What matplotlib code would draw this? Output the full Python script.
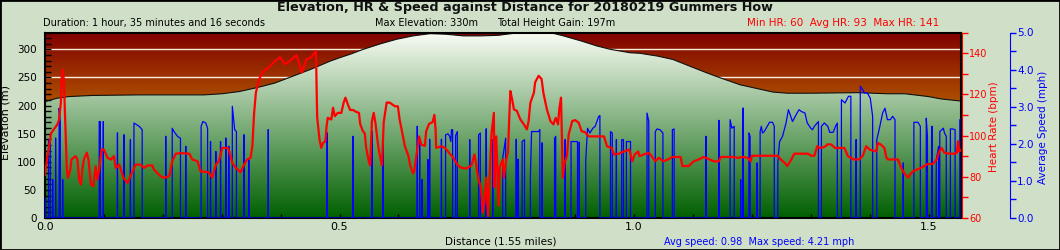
import numpy as np
import matplotlib
matplotlib.use("Agg")
import matplotlib.pyplot as plt
from matplotlib.patches import Polygon, Rectangle
from matplotlib.ticker import MultipleLocator, FixedLocator, FormatStrFormatter

# ---- values (distance in miles) ----
elev_dist = [0.0, 0.01, 0.02, 0.04, 0.08, 0.16, 0.27, 0.30, 0.33, 0.36, 0.39, 0.42, 0.45,
             0.484, 0.50, 0.52, 0.54, 0.57, 0.597, 0.625, 0.654, 0.68, 0.71, 0.74, 0.77,
             0.784, 0.80, 0.823, 0.852, 0.865, 0.88, 0.91, 0.937, 0.96, 0.993, 1.01, 1.04,
             1.066, 1.09, 1.124, 1.15, 1.18, 1.21, 1.236, 1.26, 1.30, 1.38, 1.43, 1.46,
             1.50, 1.52, 1.555]
elev_m = [207, 210, 213, 216, 218, 219, 219, 221, 225, 232, 240, 252, 264,
          279, 285, 292, 300, 310, 318, 324, 328, 327, 324, 324, 325,
          327, 329, 330, 330, 328, 324, 315, 306, 300, 294, 293, 288,
          282, 272, 258, 248, 237, 230, 224, 222, 222, 223, 221, 221,
          216, 212, 208]

hr_dist = [0.000, 0.004, 0.007, 0.010, 0.015, 0.021, 0.024, 0.027, 0.028, 0.030, 0.032, 0.034,
           0.037, 0.039, 0.043, 0.045, 0.052, 0.055, 0.058, 0.061, 0.063, 0.066, 0.071, 0.074,
           0.078, 0.082, 0.086, 0.089, 0.092, 0.096, 0.100, 0.106, 0.112, 0.117, 0.120, 0.126,
           0.128, 0.133, 0.140, 0.145, 0.154, 0.162, 0.168, 0.174, 0.182, 0.185, 0.196, 0.202,
           0.211, 0.216, 0.222, 0.230, 0.245, 0.250, 0.259, 0.264, 0.278, 0.284, 0.290, 0.295,
           0.301, 0.310, 0.312, 0.318, 0.324, 0.332, 0.338, 0.343, 0.349, 0.352, 0.355, 0.358,
           0.363, 0.370, 0.380, 0.388, 0.399, 0.407, 0.415, 0.427, 0.436, 0.444, 0.452, 0.460,
           0.462, 0.466, 0.469, 0.472, 0.476, 0.478, 0.480, 0.486, 0.489, 0.492, 0.497, 0.503,
           0.507, 0.510, 0.514, 0.518, 0.523, 0.528, 0.533, 0.535, 0.539, 0.543, 0.545, 0.550,
           0.552, 0.555, 0.558, 0.561, 0.565, 0.568, 0.572, 0.575, 0.580, 0.585, 0.589, 0.594,
           0.599, 0.602, 0.607, 0.611, 0.617, 0.620, 0.625, 0.627, 0.630, 0.635, 0.639, 0.645,
           0.647, 0.652, 0.658, 0.661, 0.663, 0.664, 0.673, 0.679, 0.684, 0.693, 0.701, 0.707,
           0.715, 0.724, 0.729, 0.732, 0.735, 0.740, 0.743, 0.746, 0.749, 0.752, 0.754, 0.758,
           0.762, 0.763, 0.766, 0.770, 0.772, 0.777, 0.779, 0.783, 0.786, 0.788, 0.790, 0.793,
           0.796, 0.801, 0.807, 0.813, 0.818, 0.821, 0.824, 0.830, 0.832, 0.838, 0.843, 0.846,
           0.852, 0.858, 0.863, 0.867, 0.871, 0.873, 0.876, 0.879, 0.882, 0.886, 0.889, 0.895,
           0.900, 0.906, 0.911, 0.917, 0.923, 0.949, 0.954, 0.962, 0.966, 0.974, 0.983, 0.992,
           0.997, 1.001, 1.007, 1.009, 1.016, 1.025, 1.030, 1.036, 1.042, 1.050, 1.059, 1.065,
           1.079, 1.082, 1.093, 1.101, 1.110, 1.118, 1.127, 1.135, 1.144, 1.147, 1.166, 1.176,
           1.185, 1.193, 1.198, 1.200, 1.244, 1.249, 1.256, 1.260, 1.267, 1.272, 1.295, 1.301,
           1.306, 1.311, 1.315, 1.323, 1.329, 1.335, 1.341, 1.357, 1.363, 1.373, 1.382, 1.388,
           1.394, 1.400, 1.405, 1.411, 1.414, 1.419, 1.425, 1.428, 1.431, 1.448, 1.453, 1.459,
           1.465, 1.470, 1.476, 1.484, 1.493, 1.498, 1.507, 1.514, 1.518, 1.522, 1.527, 1.535,
           1.544, 1.548, 1.550, 1.552, 1.555]
hr_bpm = [81, 90, 94.8, 101, 103, 105.4, 107.8, 116, 127, 132, 127, 109.5,
          84, 79.5, 83.5, 88.4, 90, 88.4, 78.6, 76.2, 82.6, 88.4, 91.7, 88,
          76.2, 75.4, 85, 78.6, 83.5, 93.2, 93.2, 89.2, 88.4, 90, 84.3, 85.9,
          84.3, 79.6, 77, 80.3, 85.9, 85.9, 84.3, 85.5, 85.5, 83.5, 80.3, 79.5,
          80.3, 87.5, 91.2, 91.5, 91.2, 88.4, 87.5, 82.6, 82.2, 79.6, 85.9, 87.5,
          94, 94, 93.2, 86.7, 84.3, 82.2, 85.9, 88.4, 89.2, 94.8, 111, 120.8,
          127, 131, 133, 135.5, 138, 134.6, 136, 139, 130.6, 137, 138, 141,
          109, 98, 94, 96.4, 97.2, 104.5, 108.6, 107.8, 113.5, 109.4, 111, 111,
          116, 118.4, 115.2, 112.4, 112.4, 111.5, 111, 105.7, 102.5, 100.9, 94.4, 87.1,
          85.5, 107, 111, 106, 96.4, 90.8, 85.5, 106.5, 116, 116, 115.2, 114.2,
          114.2, 107.8, 100.5, 94.8, 90, 85.5, 81.6, 83, 89.2, 99.6, 95.6, 95,
          102, 105.7, 106.5, 110, 103.3, 94, 94.8, 94, 92.3, 89.2, 85.5, 84.3,
          84, 85.5, 90.8, 86, 79.6, 74.8, 62.6, 68, 79.6, 61, 73.2, 100.9,
          111, 75, 99.6, 66, 84.7, 88.4, 79.6, 88.4, 92, 107.8, 121.6, 117.6,
          112.7, 112, 107.8, 105.4, 103, 107, 116, 120.8, 125.8, 129, 127.4, 120.8,
          112.7, 107, 105.4, 108.6, 105.4, 112.7, 118.4, 79.6, 86.7, 90, 100.5, 107,
          107.5, 106.2, 102.1, 101.6, 99.6, 99.6, 94.8, 94, 90.8, 91.2, 92.3, 93.2,
          87.5, 90.8, 92.3, 90, 90.8, 91.6, 90, 87.5, 89.2, 87.5, 88.6, 89.6,
          89.6, 85.2, 85.2, 87.5, 88.4, 89.6, 88.6, 87.5, 87.5, 89.6, 89.6, 89.2,
          89.6, 89.2, 87.5, 90.2, 90.2, 88.4, 86.7, 85.2, 88.4, 91.2, 91.2, 90.2,
          90.2, 94.8, 94, 94.4, 95.8, 95.6, 94, 94, 90, 88.4, 88.4, 90,
          94.8, 93.2, 92.8, 92.3, 96.4, 95.6, 94, 89.6, 88.4, 88.4, 84.7, 81.6,
          79.6, 81.6, 83.1, 83.9, 85.2, 86.2, 86.2, 88.4, 92.3, 94, 91.6, 91.2,
          91.2, 91.6, 97.2, 92.3, 93]

# speed trace: each burst rises from zero and falls back to zero
spd_dist = [0.001, 0.001, 0.001,
            0.006, 0.006, 0.009, 0.009,
            0.013, 0.013, 0.013,
            0.018, 0.018, 0.018,
            0.024, 0.024, 0.026, 0.026,
            0.030, 0.030, 0.030,
            0.092, 0.092, 0.094, 0.094,
            0.099, 0.099, 0.099,
            0.123, 0.123, 0.123,
            0.134, 0.134, 0.134,
            0.145, 0.145, 0.145,
            0.151, 0.151, 0.160, 0.165, 0.165,
            0.205, 0.205, 0.205,
            0.216, 0.216, 0.219, 0.225, 0.230, 0.230,
            0.239, 0.239, 0.239,
            0.265, 0.265, 0.268, 0.273, 0.276, 0.276,
            0.281, 0.281, 0.281,
            0.290, 0.290, 0.290,
            0.298, 0.298, 0.298,
            0.307, 0.307, 0.307,
            0.312, 0.312, 0.312,
            0.318, 0.318, 0.322, 0.325, 0.325,
            0.338, 0.338, 0.338,
            0.346, 0.346, 0.346,
            0.379, 0.379, 0.379,
            0.479, 0.479, 0.479,
            0.523, 0.523, 0.523,
            0.555, 0.555, 0.555,
            0.574, 0.574, 0.574,
            0.632, 0.632, 0.632,
            0.636, 0.636, 0.636,
            0.640, 0.640, 0.640,
            0.650, 0.650, 0.650,
            0.653, 0.653, 0.653,
            0.673, 0.673, 0.673,
            0.680, 0.680, 0.684, 0.687, 0.689, 0.690, 0.692, 0.692,
            0.697, 0.697, 0.700, 0.700,
            0.721, 0.721, 0.721,
            0.736, 0.736, 0.739, 0.739,
            0.749, 0.749, 0.749,
            0.760, 0.760, 0.760,
            0.777, 0.777, 0.782, 0.782,
            0.800, 0.800, 0.800,
            0.803, 0.803, 0.803,
            0.810, 0.810, 0.814, 0.814,
            0.824, 0.824, 0.826, 0.838, 0.840, 0.840,
            0.844, 0.844, 0.844,
            0.865, 0.865, 0.867, 0.867,
            0.883, 0.883, 0.883,
            0.893, 0.893, 0.904, 0.904,
            0.907, 0.907, 0.907,
            0.918, 0.918, 0.921, 0.925, 0.930, 0.934, 0.940, 0.942, 0.942,
            0.960, 0.960, 0.963, 0.963,
            0.970, 0.970, 0.970,
            0.979, 0.979, 0.982, 0.982,
            0.987, 0.987, 0.994, 0.994,
            1.022, 1.022, 1.025, 1.025,
            1.036, 1.036, 1.039, 1.044, 1.049, 1.049,
            1.065, 1.065, 1.068, 1.068,
            1.122, 1.122, 1.122,
            1.144, 1.144, 1.144,
            1.163, 1.163, 1.166, 1.170, 1.170,
            1.181, 1.181, 1.181,
            1.185, 1.185, 1.185,
            1.195, 1.195, 1.197, 1.197,
            1.209, 1.209, 1.209,
            1.214, 1.214, 1.216, 1.218, 1.221, 1.226, 1.230, 1.235, 1.238, 1.238,
            1.244, 1.244, 1.247, 1.252, 1.258, 1.262, 1.266, 1.269, 1.275, 1.280, 1.284,
            1.290, 1.294, 1.300, 1.303, 1.306, 1.311, 1.313, 1.313,
            1.318, 1.318, 1.323, 1.329, 1.332, 1.338, 1.342, 1.345, 1.345,
            1.352, 1.352, 1.358, 1.361, 1.364, 1.368, 1.368,
            1.377, 1.377, 1.377,
            1.384, 1.384, 1.388, 1.391, 1.396, 1.401, 1.405, 1.405,
            1.412, 1.412, 1.416, 1.422, 1.426, 1.430, 1.435, 1.439, 1.443, 1.443,
            1.457, 1.457, 1.457,
            1.475, 1.475, 1.482, 1.486, 1.486,
            1.496, 1.496, 1.498, 1.498,
            1.506, 1.506, 1.506,
            1.513, 1.513, 1.517, 1.517,
            1.519, 1.519, 1.525, 1.527, 1.530, 1.530,
            1.537, 1.537, 1.541, 1.545, 1.545,
            1.553, 1.553, 1.555]
spd_mph = [0, 0.53, 0,
           0, 2.11, 2.05, 0,
           0, 1.03, 0,
           0, 2.15, 0,
           0, 2.96, 2.6, 0,
           0, 1.03, 0,
           0, 2.6, 2.6, 0,
           0, 2.6, 0,
           0, 2.29, 0,
           0, 2.24, 0,
           0, 2.11, 0,
           0, 2.56, 2.47, 2.38, 0,
           0, 2.2, 0,
           0, 2.42, 2.33, 2.2, 2.15, 0,
           0, 1.93, 0,
           0, 2.47, 2.6, 2.56, 2.42, 0,
           0, 2.06, 0,
           0, 1.79, 0,
           0, 2.06, 0,
           0, 2.15, 0,
           0, 1.93, 0,
           0, 3.01, 2.38, 2.33, 0,
           0, 2.24, 0,
           0, 1.57, 0,
           0, 2.38, 0,
           0, 2.29, 0,
           0, 2.2, 0,
           0, 2.33, 0,
           0, 2.11, 0,
           0, 2.47, 0,
           0, 2.11, 0,
           0, 1.03, 0,
           0, 1.57, 0,
           0, 2.12, 0,
           0, 2.12, 0,
           0, 2.24, 2.27, 2.2, 2.06, 2.38, 2.38, 0,
           0, 2.22, 2.33, 0,
           0, 2.11, 0,
           0, 2.24, 2.29, 0,
           0, 2.4, 0,
           0, 2.11, 0,
           0, 1.61, 2.15, 0,
           0, 2.12, 0,
           0, 1.58, 0,
           0, 2.06, 2.11, 0,
           0, 1.13, 2.33, 2.33, 2.38, 0,
           0, 2.02, 0,
           0, 2.15, 2.2, 0,
           0, 2.11, 0,
           0, 2.06, 2.06, 0,
           0, 2.04, 0,
           0, 1.57, 2.42, 2.29, 2.42, 2.47, 2.74, 2.76, 0,
           0, 2.33, 2.29, 0,
           0, 2.11, 0,
           0, 2.11, 2.11, 0,
           0, 2.06, 2.06, 0,
           0, 2.83, 2.6, 0,
           0, 2.33, 2.4, 2.38, 2.29, 0,
           0, 2.38, 2.4, 0,
           0, 2.2, 0,
           0, 2.63, 0,
           0, 2.65, 2.42, 2.47, 0,
           0, 1.03, 0,
           0, 2.96, 0,
           0, 2.29, 2.2, 0,
           0, 1.48, 0,
           0, 2.33, 2.47, 2.29, 2.33, 2.47, 2.58, 2.58, 2.47, 0,
           0, 1.48, 2.06, 2.2, 2.56, 2.92, 2.74, 2.6, 2.78, 2.92, 2.87,
           2.83, 2.56, 2.42, 2.38, 2.47, 2.56, 2.6, 0,
           0, 2.47, 2.56, 2.47, 2.31, 2.31, 2.47, 2.56, 0,
           0, 3.19, 3.1, 3.19, 3.28, 3.28, 0,
           0, 2.11, 0,
           0, 3.55, 3.46, 3.37, 3.37, 3.23, 2.74, 0,
           0, 2.11, 2.38, 2.83, 2.96, 2.65, 2.65, 2.74, 2.65, 0,
           0, 1.48, 0,
           0, 2.58, 2.58, 2.47, 0,
           0, 2.69, 2.2, 0,
           0, 2.47, 0,
           0, 1.57, 1.93, 0,
           0, 2.33, 2.42, 2.29, 2.2, 0,
           0, 2.4, 2.4, 2.38, 0,
           0, 2.65, 2.65]

x_ticks = [0.0, 0.5, 1.0, 1.5]
elev_ticks = [0, 50, 100, 150, 200, 250, 300]
hr_ticks = [60, 80, 100, 120, 140]
spd_ticks = [0.0, 1.0, 2.0, 3.0, 4.0, 5.0]

W, H = 1060, 250
fig = plt.figure(figsize=(W / 100, H / 100), dpi=100)
fig.patch.set_facecolor('#d0e0c8')
fig.patches.append(Rectangle((0, 0), 1, 1, transform=fig.transFigure, fill=False,
                             edgecolor='black', lw=2))

ax = fig.add_axes([45 / W, 32 / H, 916 / W, 185.5 / H])
ax.set_xlim(0, 1.555)
ax.set_ylim(0, 330)

# brown sky gradient
yy = np.linspace(0, 330, 331)[:, None]
t = np.clip((yy - 200) / 130, 0, 1)
brown = np.dstack([(176 - 48 * t) / 255, (84 - 84 * t) / 255, 0 * t])
ax.imshow(brown, extent=[0, 1.555, 0, 330], origin='lower', aspect='auto', zorder=0)

for g in elev_ticks[1:]:
    ax.axhline(g, color='#f4f0dc', lw=1, zorder=0.5)

# green gradient under the elevation profile
t = yy / 330
green = np.dstack([(250 * t) / 255, (96 + 156 * t) / 255, (245 * t) / 255])
ed = np.asarray(elev_dist)
em = np.asarray(elev_m)
poly = Polygon(np.column_stack([np.r_[ed[0], ed, ed[-1]], np.r_[0, em, 0]]),
               closed=True, facecolor='none', edgecolor='none', transform=ax.transData)
ax.add_patch(poly)
im = ax.imshow(green, extent=[0, 1.555, 0, 330], origin='lower', aspect='auto', zorder=1)
im.set_clip_path(poly)
ax.plot(elev_dist, elev_m, color='#101010', lw=0.8, zorder=2)

ax.xaxis.set_major_locator(FixedLocator(x_ticks))
ax.xaxis.set_minor_locator(MultipleLocator(0.1))
ax.xaxis.set_major_formatter(FormatStrFormatter('%.1f'))
ax.yaxis.set_major_locator(FixedLocator(elev_ticks))
ax.yaxis.set_minor_locator(MultipleLocator(10))
ax.tick_params(axis='x', which='both', direction='in', length=3, width=1, pad=3,
               labelsize=8, colors='black')
ax.tick_params(axis='y', which='both', direction='in', length=4, width=1, pad=6,
               labelsize=7.5, colors='black')
for s in ax.spines.values():
    s.set_linewidth(1.5)
    s.set_color('black')
    s.set_zorder(5)

# speed axis (blue), drawn below HR
ax_spd = ax.twinx()
ax_spd.set_ylim(0, 5)
ax_spd.plot(spd_dist, spd_mph, color='#0000ff', lw=0.9)
ax_spd.yaxis.set_major_locator(FixedLocator(spd_ticks))
ax_spd.yaxis.set_minor_locator(MultipleLocator(0.5))
ax_spd.yaxis.set_major_formatter(FormatStrFormatter('%.1f'))
ax_spd.tick_params(axis='y', which='both', direction='out', length=4, width=1, pad=1,
                   labelsize=7.5, colors='#0000ff')
for k in ['top', 'bottom', 'left']:
    ax_spd.spines[k].set_visible(False)
ax_spd.spines['right'].set_position(('axes', (1010 - 45) / 916))
ax_spd.spines['right'].set_color('#0000ff')

# heart-rate axis (red)
ax_hr = ax.twinx()
ax_hr.set_ylim(60, 150)
ax_hr.plot(hr_dist, hr_bpm, color='#ff0000', lw=1.6)
ax_hr.yaxis.set_major_locator(FixedLocator(hr_ticks))
ax_hr.yaxis.set_minor_locator(MultipleLocator(10))
ax_hr.tick_params(axis='y', which='both', direction='out', length=4, width=1, pad=1,
                  labelsize=7, colors='#ff0000')
for k in ['top', 'bottom', 'left']:
    ax_hr.spines[k].set_visible(False)
ax_hr.spines['right'].set_position(('outward', 1))
ax_hr.spines['right'].set_color('#ff0000')
ax_hr.set_xlim(0, 1.555)

# header / footer texts
fig.text(525 / W, 1 - 8 / H, "Elevation, HR & Speed against Distance for 20180219 Gummers How",
         ha='center', va='center', fontsize=9.2, fontweight='bold', color='#111111')
fig.text(43 / W, 1 - 23 / H, "Duration: 1 hour, 35 minutes and 16 seconds",
         ha='left', va='center', fontsize=7, color='black')
fig.text(375 / W, 1 - 23 / H, "Max Elevation: 330m", ha='left', va='center', fontsize=7)
fig.text(497 / W, 1 - 23 / H, "Total Height Gain: 197m", ha='left', va='center', fontsize=7)
fig.text(747 / W, 1 - 23 / H, "Min HR: 60  Avg HR: 93  Max HR: 141",
         ha='left', va='center', fontsize=7.5, color='#ff0000')
fig.text(445 / W, 1 - 242 / H, "Distance (1.55 miles)", ha='left', va='center', fontsize=7.5)
fig.text(664 / W, 1 - 242 / H, "Avg speed: 0.98  Max speed: 4.21 mph",
         ha='left', va='center', fontsize=7, color='#0000ff')
fig.text(6 / W, 1 - 122 / H, "Elevation (m)", rotation=90, ha='center', va='center',
         fontsize=8)
fig.text(994 / W, 1 - 127 / H, "Heart Rate (bpm)", rotation=90, ha='center', va='center',
         fontsize=7.5, color='#ff0000')
fig.text(1043 / W, 1 - 127 / H, "Average Speed (mph)", rotation=90, ha='center', va='center',
         fontsize=7.5, color='#0000ff')

fig.savefig('out.png', dpi=100, facecolor=fig.get_facecolor())
